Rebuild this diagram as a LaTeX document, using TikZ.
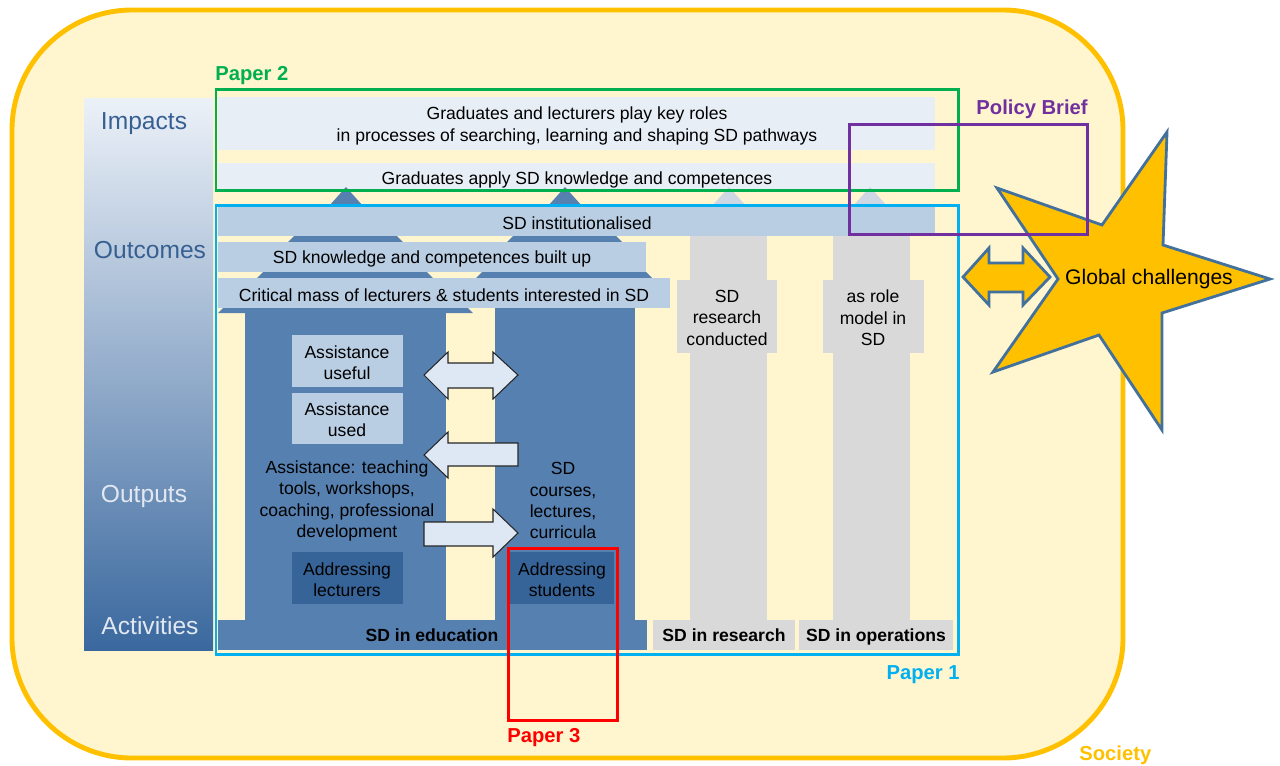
\documentclass[tikz,border=0pt]{standalone}
\usepackage{fontspec}
\setmainfont{Liberation Sans}

\definecolor{societyfill}{RGB}{255,245,206}
\definecolor{societyline}{RGB}{255,192,0}
\definecolor{tiertop}{RGB}{236,241,248}
\definecolor{tiermid}{RGB}{186,202,222}
\definecolor{tierbot}{RGB}{58,104,158}
\definecolor{tierdark}{RGB}{55,96,146}
\definecolor{tierlight}{RGB}{226,232,241}
\definecolor{impactfill}{RGB}{232,238,246}
\definecolor{barfill}{RGB}{185,205,227}
\definecolor{stemblue}{RGB}{85,128,176}
\definecolor{darkbox}{RGB}{54,100,152}
\definecolor{grayfill}{RGB}{217,217,217}
\definecolor{grayhead}{RGB}{205,216,228}
\definecolor{arrowfill}{RGB}{222,232,245}
\definecolor{paperone}{RGB}{0,176,240}
\definecolor{papertwo}{RGB}{0,176,80}
\definecolor{paperthree}{RGB}{255,0,0}
\definecolor{policy}{RGB}{112,48,160}
\definecolor{starline}{RGB}{65,113,156}

\tikzset{
  lbl/.style={font=\fontsize{10}{12.2}\selectfont, align=center, inner sep=0pt, yshift=-1pt},
  tier/.style={font=\fontsize{14}{16}\selectfont, inner sep=0pt, text height=0.72em, text depth=0.21em, yshift=-2.2pt},
  paperlbl/.style={font=\bfseries\fontsize{11.5}{13}\selectfont, inner sep=0pt, text height=0.72em, text depth=0.21em, yshift=-1.7pt},
  baselbl/.style={font=\bfseries\fontsize{10}{12}\selectfont, inner sep=0pt, text height=0.72em, text depth=0.21em, yshift=-1.1pt},
  blockarrow/.style={fill=arrowfill, draw=black!85, line width=0.6pt},
  frame/.style={line width=1.7pt},
}

\begin{document}
\begin{tikzpicture}[x=0.02cm,y=-0.02cm]
  \useasboundingbox (0,0) rectangle (1280,765);
  % society
  \draw[societyline, fill=societyfill, line width=2.8pt, rounded corners=2.4cm] (12,10) rectangle (1123,758);
  \node[paperlbl, text=societyline, anchor=west] (society) at (1079,753) {Society};

  % levels on the left
  \shade[top color=tiertop, middle color=tiermid, bottom color=tierbot] (84,98) rectangle (213,650);
  \node[tier, text=tierdark] (impacts) at (144,121) {Impacts};
  \node[tier, text=tierdark] (outcomes) at (150,250) {Outcomes};
  \node[tier, text=tierlight] (outputs) at (144,494) {Outputs};
  \node[tier, text=tierlight] (activities) at (150,626) {Activities};

  % impacts
  \fill[impactfill] (218,97) rectangle (935,150);
  \fill[impactfill] (218,163) rectangle (935,190);
  \node[lbl] (roles) at (577,124) {Graduates and lecturers play key roles\\in processes of searching, learning and shaping SD pathways};
  \node[lbl] (apply) at (577,178) {Graduates apply SD knowledge and competences};

  % arrow heads between the levels
  \fill[stemblue] (329,206) -- (346,187) -- (363,206) -- cycle;
  \fill[stemblue] (548,206) -- (565,187) -- (582,206) -- cycle;
  \fill[grayhead] (712,206) -- (729,187) -- (746,206) -- cycle;
  \fill[grayhead] (853,206) -- (870,187) -- (887,206) -- cycle;
  \fill[stemblue] (282,248) -- (300,230) -- (391,230) -- (409,248) -- cycle;
  \fill[stemblue] (501,248) -- (519,230) -- (610,230) -- (628,248) -- cycle;
  \fill[stemblue] (250,285) -- (270,265) -- (420,265) -- (440,285) -- cycle;

  % gray columns
  \fill[grayfill] (690,230) rectangle (767,620);
  \fill[grayfill] (833,230) rectangle (910,620);
  \fill[grayfill] (677,280) rectangle (777,353);
  \fill[grayfill] (823,280) rectangle (924,353);
  \node[lbl] (research) at (727,316) {SD\\research\\conducted};
  \node[lbl] (rolemodel) at (873,316) {as role\\model in\\SD};
  \fill[grayfill] (653,620) rectangle (795,650);
  \fill[grayfill] (799,620) rectangle (953,650);
  \node[baselbl] (inresearch) at (724,635) {SD in research};
  \node[baselbl] (inoperations) at (876,635) {SD in operations};

  % blue columns
  \fill[stemblue] (472,282) -- (490,264) -- (638,264) -- (656,282) -- cycle;
  \fill[stemblue] (495,280) rectangle (635,620);
  \fill[stemblue] (218,313) -- (231,300) -- (460,300) -- (473,313) -- cycle;
  \fill[stemblue] (245,312) rectangle (446,620);
  \fill[stemblue] (218,620) rectangle (647,650);
  \node[baselbl] (ineducation) at (432,635) {SD in education};

  % outcome bars
  \fill[barfill] (218,207) rectangle (935,236);
  \fill[barfill] (218,242) rectangle (646,272);
  \fill[barfill] (218,278) rectangle (670,308);
  \node[lbl] (institutionalised) at (577,221) {SD institutionalised};
  \node[lbl] (builtup) at (432,257) {SD knowledge and competences built up};
  \node[lbl] (critical) at (444,293) {Critical mass of lecturers \& students interested in SD};

  % outputs and activities in education
  \fill[barfill] (292,335) rectangle (403,387);
  \fill[barfill] (292,393) rectangle (403,444);
  \fill[darkbox] (292,552) rectangle (403,604);
  \fill[darkbox] (510,552) rectangle (614,604);
  \node[lbl] (useful) at (347,361) {Assistance\\useful};
  \node[lbl] (used) at (347,418) {Assistance\\used};
  \node[lbl] (assistance) at (347,499) {Assistance: teaching\\tools, workshops,\\coaching, professional\\development};
  \node[lbl] (courses) at (563,499) {SD\\courses,\\lectures,\\curricula};
  \node[lbl] (lecturers) at (347,578) {Addressing\\lecturers};
  \node[lbl] (students) at (562,578) {Addressing\\students};

  % block arrows
  \draw[blockarrow] (424,375) -- (448,352) -- (448,363) -- (493,363) -- (493,352) -- (518,375)
    -- (493,399) -- (493,388) -- (448,388) -- (448,399) -- cycle;
  \draw[blockarrow] (424,455) -- (448,432) -- (448,443) -- (518,443) -- (518,466) -- (448,466) -- (448,478) -- cycle;
  \draw[blockarrow] (518,533) -- (493,509) -- (493,522) -- (424,522) -- (424,546) -- (493,546) -- (493,557) -- cycle;

  % global challenges
  \draw[starline, fill=societyline, line width=1.6pt, line join=miter]
    (1270,279) -- (1162,313) -- (1162,430) -- (1099,335) -- (993,372) -- (1058,279)
    -- (997,188) -- (1102,225) -- (1167,132) -- (1163,245) -- cycle;
  \node[lbl, font=\fontsize{12}{14}\selectfont] (global) at (1149,277) {Global challenges};
  \draw[starline, fill=societyline, line width=1.6pt] (963,277) -- (989,248) -- (989,263) -- (1023,263)
    -- (1023,248) -- (1050,277) -- (1023,305) -- (1023,292) -- (989,292) -- (989,305) -- cycle;

  % papers
  \draw[frame, papertwo] (216,89) rectangle (958,190);
  \node[paperlbl, text=papertwo, anchor=west] (paper2) at (215,73) {Paper 2};
  \draw[frame, paperone] (216,205) rectangle (958,654);
  \node[paperlbl, text=paperone, anchor=east] (paper1) at (960,672) {Paper 1};
  \draw[frame, paperthree] (508,548) rectangle (617,720);
  \node[paperlbl, text=paperthree, anchor=west] (paper3) at (507,735) {Paper 3};
  \draw[frame, policy] (849,124) rectangle (1087,234);
  \node[paperlbl, text=policy, anchor=east] (brief) at (1088,107) {Policy Brief};
\end{tikzpicture}
\end{document}
